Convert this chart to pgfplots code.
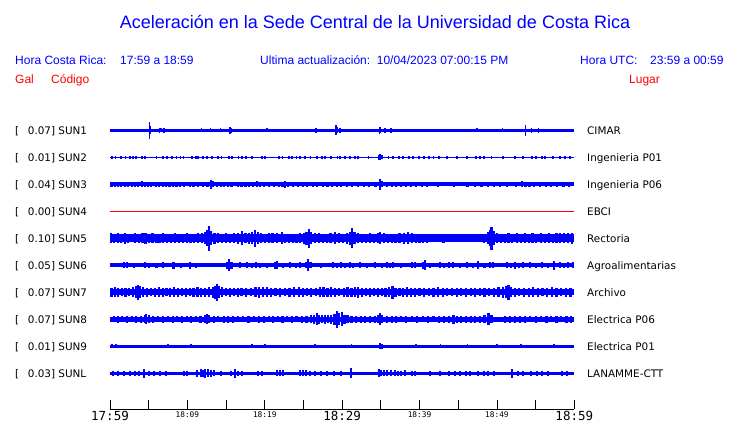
\documentclass[border=0pt]{standalone}
\usepackage{fontspec}
\setmainfont{Liberation Sans}
\newfontfamily\dvs{DejaVu Sans}
\newfontfamily\dvsm{DejaVu Sans Mono}
\usepackage{pgfplots}
\pgfplotsset{compat=1.18}
\definecolor{trace}{RGB}{0,0,255}
\definecolor{redt}{RGB}{255,0,0}
\newcommand\tlB[1]{\fontsize{12.5pt}{12.5pt}\dvsm #1}
\newcommand\tlS[1]{\raisebox{3pt}{\fontsize{7.8pt}{7.8pt}\dvsm #1}}
\pgfplotsset{
  bars/.style={draw=none, mark=none,
    error bars/.cd, y dir=both, y explicit, error mark=none,
    error bar style={draw=trace, line width=#1}},
  base/.style={trace, line width=#1, mark=none},
  table/et/.style={header=false, x index=0, y index=1, y error index=2},
}
\newcommand\lab[3]{%
  \node[anchor=base west, inner sep=0pt, font=\fontsize{10.4pt}{10.4pt}\dvs] at (15pt,#1pt-3.8pt) {[};
  \node[anchor=base west, inner sep=0pt, font=\fontsize{10.4pt}{10.4pt}\dvs] at (27.7pt,#1pt-3.8pt) {#2};
  \node[anchor=base west, inner sep=0pt, font=\fontsize{10.4pt}{10.4pt}\dvs] at (587pt,#1pt-3.8pt) {#3};
}
\begin{document}
\begin{tikzpicture}
\path[use as bounding box, fill=white] (0pt,0pt) rectangle (740pt,423pt);
\node[anchor=base, inner sep=0pt, text=trace, font=\fontsize{18pt}{18pt}\selectfont] at (375pt,394.7pt) {Aceleración en la Sede Central de la Universidad de Costa Rica};
\begin{scope}[every node/.style={anchor=base west, inner sep=0pt, font=\fontsize{12pt}{12pt}\selectfont}]
\node[text=trace] at (15pt,358.7pt) {Hora Costa Rica:};
\node[text=trace] at (120pt,358.7pt) {17:59 a 18:59};
\node[text=trace] at (260pt,358.7pt) {Ultima actualización:\ \ 10/04/2023 07:00:15 PM};
\node[text=trace] at (580pt,358.7pt) {Hora UTC:};
\node[text=trace] at (650pt,358.7pt) {23:59 a 00:59};
\node[text=redt] at (15pt,339.7pt) {Gal};
\node[text=redt] at (51pt,339.7pt) {Código};
\node[text=redt] at (629pt,339.7pt) {Lugar};
\end{scope}
\lab{292.7}{0.07] SUN1}{CIMAR}
\lab{265.7}{0.01] SUN2}{Ingenieria P01}
\lab{238.7}{0.04] SUN3}{Ingenieria P06}
\lab{211.7}{0.00] SUN4}{EBCI}
\lab{184.7}{0.10] SUN5}{Rectoria}
\lab{157.7}{0.05] SUN6}{Agroalimentarias}
\lab{130.7}{0.07] SUN7}{Archivo}
\lab{103.7}{0.07] SUN8}{Electrica P06}
\lab{76.7}{0.01] SUN9}{Electrica P01}
\lab{49.7}{0.03] SUNL}{LANAMME-CTT}
\begin{axis}[
  at={(110pt,14pt)}, anchor=south west, scale only axis,
  width=464.3pt, height=296pt,
  xmin=0, xmax=60, ymin=14, ymax=310,
  axis x line*=bottom, axis y line=none,
  axis line style={black, line width=0.8pt},
  xtick={0,5,...,60},
  xticklabels={\tlB{17:59},,\tlS{18:09},,\tlS{18:19},,\tlB{18:29},,\tlS{18:39},,\tlS{18:49},,\tlB{18:59}},
  xticklabel style={anchor=base, yshift=-11.6pt, inner sep=0pt},
  major tick length=9pt, xtick align=inside,
  tick style={black, line width=0.8pt},
  clip=false,
]
% SUN1
\addplot[base=3.3pt] coordinates {(0,292.7) (60,292.7)};
\addplot[bars=1.5pt] table[et] {
5.09 292.7 8.7
5.2 292.7 4
6.4 292.7 2.5
6.6 292.7 2.2
7.0 292.7 2.5
11.85 292.7 2.2
13.0 292.7 2.2
14.3 292.7 2.2
15.5 292.7 3.5
15.65 292.7 2.5
20.3 292.7 2.2
26.6 292.7 2.7
29.2 292.7 5.2
29.35 292.7 3
29.7 292.7 2.5
34.8 292.7 3.7
34.95 292.7 3.2
35.55 292.7 2.5
36.3 292.7 2.5
47.4 292.7 2
50.7 292.7 2
53.7 292.7 5.5
54.5 292.7 2.5
55.4 292.7 2.5
};
% SUN2
\addplot[base=1.5pt] coordinates {(0,265.7) (60,265.7)};
\addplot[bars=1.8pt] table[et] {
0.3 265.7 1.5
0.7 265.7 1.5
1.4 265.7 1.5
2.0 265.7 1.5
2.6 265.7 1.5
3.0 265.7 1.5
3.4 265.7 1.5
4.1 265.7 1.5
4.5 265.7 1.5
6.0 265.7 1.5
6.8 265.7 1.5
7.4 265.7 1.5
8.0 265.7 1.5
8.6 265.7 1.5
9.1 265.7 1.5
9.5 265.7 1.5
10.6 265.7 1.5
11.1 265.7 1.5
11.4 265.7 1.5
12.0 265.7 1.5
12.5 265.7 1.5
13.2 265.7 1.5
14.0 265.7 1.5
14.4 265.7 1.5
15.4 265.7 1.5
15.8 265.7 1.5
16.6 265.7 1.5
17.1 265.7 1.5
17.6 265.7 1.5
18.3 265.7 1.5
19.6 265.7 1.5
20.0 265.7 1.5
21.8 265.7 1.5
22.3 265.7 1.5
23.1 265.7 1.5
23.5 265.7 1.5
24.1 265.7 1.5
24.6 265.7 1.5
25.2 265.7 1.5
25.9 265.7 1.5
26.7 265.7 1.5
27.4 265.7 1.5
27.8 265.7 1.5
28.6 265.7 1.5
29.4 265.7 1.5
29.7 265.7 1.5
30.4 265.7 1.5
31.0 265.7 1.5
31.7 265.7 1.5
32.1 265.7 1.5
33.4 265.7 1.5
34.7 265.7 2.6
34.9 265.7 2.8
35.1 265.7 2
36.0 265.7 1.5
36.6 265.7 1.5
37.3 265.7 1.5
37.9 265.7 1.5
38.6 265.7 1.5
39.2 265.7 1.5
39.9 265.7 1.5
40.6 265.7 1.5
41.2 265.7 1.5
41.8 265.7 1.5
42.5 265.7 1.5
43.5 265.7 1.5
44.8 265.7 1.5
46.1 265.7 1.5
47.3 265.7 1.5
47.8 265.7 1.5
48.3 265.7 1.5
49.3 265.7 1.5
50.8 265.7 1.5
52.3 265.7 1.5
53.4 265.7 1.5
54.5 265.7 1.5
55.1 265.7 1.5
55.8 265.7 1.5
56.2 265.7 1.5
57.2 265.7 1.5
58.2 265.7 1.5
58.8 265.7 1.5
59.4 265.7 1.5
};
% SUN3
\addplot[base=3.6pt] coordinates {(0,238.7) (60,238.7)};
\addplot[bars=2.2pt] table[et] {
0.2 238.7 2.3
0.6 238.7 2.3
1.0 238.7 2.5
1.4 238.7 2.3
1.9 238.7 2.3
2.3 238.7 2.5
2.8 238.7 2.3
3.2 238.7 2.6
3.6 238.7 2.3
4.1 238.7 2.8
4.5 238.7 2.5
4.9 238.7 2.5
5.3 238.7 2.3
5.9 238.7 2.3
6.3 238.7 2.5
6.8 238.7 2.3
7.2 238.7 2.3
7.7 238.7 2.6
8.1 238.7 2.3
8.6 238.7 2.3
9.0 238.7 2.5
9.6 238.7 2.3
10.3 238.7 2.3
10.8 238.7 2.5
11.4 238.7 2.3
12.0 238.7 2.3
12.6 238.7 2.5
13.05 238.7 4.3
13.3 238.7 3
13.8 238.7 2.3
14.3 238.7 2.5
14.7 238.7 2.6
15.2 238.7 2.5
15.7 238.7 2.3
16.5 238.7 2.3
17.0 238.7 2.5
17.5 238.7 2.3
18.0 238.7 2.3
18.5 238.7 2.5
18.96 238.7 3.2
19.4 238.7 2.3
19.9 238.7 2.3
20.5 238.7 2.3
21.2 238.7 2.3
21.8 238.7 2.5
22.3 238.7 2.6
22.6 238.7 3.5
23.0 238.7 2.5
23.6 238.7 2.3
24.3 238.7 2.3
24.9 238.7 2.3
25.5 238.7 2.5
26.2 238.7 2.3
26.8 238.7 2.3
27.5 238.7 2.5
28.1 238.7 2.3
28.7 238.7 2.5
29.3 238.7 2.3
29.9 238.7 2.5
30.6 238.7 2.3
31.3 238.7 2.3
32.0 238.7 2.3
32.8 238.7 2.3
33.5 238.7 2.3
34.3 238.7 2.3
34.9 238.7 5.3
35.2 238.7 3.2
35.8 238.7 2.5
36.4 238.7 2.6
37.0 238.7 2.5
37.6 238.7 2.3
38.2 238.7 2.5
38.9 238.7 2.3
39.5 238.7 2.3
40.3 238.7 2.3
41.0 238.7 2.3
42.4 238.7 2.3
44.5 238.7 2.3
46.2 238.7 2.3
47.2 238.7 2.3
48.0 238.7 2.3
48.8 238.7 2.3
49.6 238.7 2.3
50.4 238.7 2.3
51.3 238.7 2.3
52.5 238.7 2.5
53.2 238.7 3.2
53.7 238.7 2.5
54.2 238.7 2.3
54.8 238.7 2.5
55.6 238.7 2.3
56.3 238.7 2.3
57.0 238.7 2.5
57.8 238.7 2.5
58.6 238.7 2.3
59.3 238.7 2.3
};
% SUN4
\addplot[redt, line width=1pt, mark=none] coordinates {(0,211.7) (60,211.7)};
% SUN5
\addplot[base=7.6pt] coordinates {(0,184.7) (60,184.7)};
\addplot[bars=2.2pt] table[et] {
0.1 184.7 5
0.5 184.7 4.5
1.0 184.7 5
1.4 184.7 4.3
1.9 184.7 5.5
2.3 184.7 4.5
2.8 184.7 4
3.2 184.7 4.8
3.7 184.7 4.3
4.2 184.7 5
4.6 184.7 5.5
5.0 184.7 4.5
5.5 184.7 4.8
6.0 184.7 4.3
6.4 184.7 4.5
6.9 184.7 5
7.4 184.7 4.3
7.9 184.7 4.5
8.4 184.7 4.8
8.9 184.7 4.3
9.4 184.7 4.5
9.9 184.7 5
10.4 184.7 4.3
10.9 184.7 4.5
11.4 184.7 4.8
11.9 184.7 5
12.3 184.7 6
12.6 184.7 8
12.84 184.7 12.5
13.1 184.7 7
13.5 184.7 5.5
14.0 184.7 4.8
14.5 184.7 4.5
15.0 184.7 5
15.5 184.7 4.5
16.0 184.7 5
16.5 184.7 5.5
17.1 184.7 7
17.5 184.7 5
18.0 184.7 5.5
18.4 184.7 6
18.74 184.7 8.7
19.1 184.7 6
19.5 184.7 5
20.0 184.7 4.5
20.5 184.7 4.8
21.0 184.7 5
21.6 184.7 5
22.2 184.7 6
22.6 184.7 4.5
23.1 184.7 4.5
23.6 184.7 4.3
24.1 184.7 4.5
24.6 184.7 5
25.1 184.7 5.5
25.4 184.7 6.5
25.7 184.7 9.5
26.0 184.7 6
26.5 184.7 5
27.0 184.7 4.8
27.5 184.7 4.5
28.0 184.7 4.5
28.5 184.7 5
29.1 184.7 6
29.6 184.7 4.8
30.1 184.7 4.5
30.6 184.7 5.5
31.0 184.7 6.5
31.3 184.7 10.2
31.6 184.7 6
32.1 184.7 5
32.6 184.7 4.5
33.1 184.7 4.5
33.6 184.7 5
34.1 184.7 4.5
34.6 184.7 5
34.9 184.7 6
35.4 184.7 5
35.9 184.7 4.5
36.4 184.7 4.3
36.9 184.7 4.5
37.4 184.7 5
38.0 184.7 5.5
38.5 184.7 6
39.0 184.7 5
39.5 184.7 4.5
40.0 184.7 4.3
40.5 184.7 4.5
41.0 184.7 4.3
41.6 184.7 4
42.1 184.7 3.8
42.6 184.7 4
43.1 184.7 4.3
43.6 184.7 4
44.1 184.7 3.8
44.6 184.7 4
45.1 184.7 4
45.7 184.7 3.8
46.2 184.7 4
46.7 184.7 3.8
47.2 184.7 4
47.8 184.7 3.8
48.3 184.7 4.3
48.8 184.7 6
49.1 184.7 8
49.3 184.7 11.3
49.6 184.7 7
50.0 184.7 5
50.5 184.7 4.5
51.0 184.7 4.5
51.5 184.7 4.8
52.0 184.7 4.5
52.6 184.7 4.8
53.1 184.7 4.5
53.6 184.7 4.8
54.1 184.7 4.5
54.6 184.7 4.8
55.1 184.7 4.5
55.7 184.7 4.8
56.2 184.7 4.5
56.7 184.7 5
57.2 184.7 4.5
57.7 184.7 4.8
58.2 184.7 5
58.7 184.7 4.8
59.2 184.7 5
59.7 184.7 5.5
};
% SUN6
\addplot[base=3.6pt] coordinates {(0,157.7) (60,157.7)};
\addplot[bars=2.2pt] table[et] {
1.8 157.7 3
2.2 157.7 3
3.1 157.7 2.6
4.5 157.7 3
5.0 157.7 2.7
6.0 157.7 2.6
6.9 157.7 3
8.2 157.7 3.5
9.2 157.7 2.6
10.3 157.7 3.5
11.1 157.7 2.6
15.1 157.7 3.5
15.4 157.7 6.2
15.7 157.7 3.5
16.8 157.7 3
17.7 157.7 3
18.3 157.7 2.7
18.9 157.7 3
19.4 157.7 2.7
20.3 157.7 2.6
21.3 157.7 3.3
21.6 157.7 4
22.4 157.7 2.6
23.3 157.7 3
24.0 157.7 2.6
24.6 157.7 3
25.3 157.7 3
25.6 157.7 6
25.9 157.7 3
27.3 157.7 2.6
28.8 157.7 3
29.3 157.7 2.7
29.9 157.7 3
30.4 157.7 2.7
31.0 157.7 3
31.4 157.7 2.7
32.3 157.7 3
33.2 157.7 2.6
34.2 157.7 3
35.1 157.7 2.6
35.8 157.7 3
36.2 157.7 2.7
36.6 157.7 3
37.6 157.7 2.6
39.0 157.7 3
39.4 157.7 3
40.4 157.7 3.5
40.7 157.7 4.8
41.4 157.7 2.6
42.6 157.7 3
43.2 157.7 2.7
43.8 157.7 3
44.3 157.7 3
45.2 157.7 2.6
46.1 157.7 3
46.9 157.7 2.6
47.6 157.7 4
48.4 157.7 2.6
49.1 157.7 3
49.5 157.7 3
51.3 157.7 3
51.8 157.7 2.7
52.3 157.7 3.3
52.9 157.7 2.7
53.4 157.7 3
54.3 157.7 3
55.0 157.7 2.6
55.8 157.7 3
56.6 157.7 2.6
57.4 157.7 4.5
58.2 157.7 3
58.7 157.7 2.7
59.2 157.7 3
59.8 157.7 3
};
% SUN7
\addplot[base=5.6pt] coordinates {(0,130.7) (60,130.7)};
\addplot[bars=2.2pt] table[et] {
0.2 130.7 4.5
0.6 130.7 5
1.0 130.7 4.5
1.5 130.7 4
2.0 130.7 4.5
2.5 130.7 4
3.0 130.7 5
3.4 130.7 6
3.66 130.7 7.5
3.9 130.7 6
4.3 130.7 5
4.8 130.7 4.5
5.3 130.7 4
5.8 130.7 4.5
6.3 130.7 5
6.8 130.7 4.5
7.3 130.7 4
7.8 130.7 4.5
8.3 130.7 5
8.8 130.7 4.5
9.3 130.7 4
9.8 130.7 4.5
10.3 130.7 4
10.8 130.7 4.5
11.3 130.7 5
11.8 130.7 4.5
12.3 130.7 4.5
12.8 130.7 5
13.3 130.7 5.5
13.6 130.7 6.5
13.87 130.7 8.5
14.1 130.7 6
14.5 130.7 5
15.0 130.7 4
15.5 130.7 4.5
16.0 130.7 4
16.5 130.7 4.5
17.0 130.7 4
17.6 130.7 4.5
18.2 130.7 4
18.8 130.7 5
19.3 130.7 5.5
19.8 130.7 5
20.3 130.7 5
20.8 130.7 4.5
21.4 130.7 4
22.0 130.7 4.5
22.6 130.7 4
23.2 130.7 4.5
23.8 130.7 5
24.4 130.7 5
24.9 130.7 4.5
25.5 130.7 4
26.0 130.7 4.5
26.6 130.7 4
27.1 130.7 5
27.6 130.7 5
28.1 130.7 4.5
28.6 130.7 5
29.1 130.7 4.5
29.6 130.7 4
30.2 130.7 4.5
30.7 130.7 5
31.2 130.7 4.5
31.7 130.7 5
32.1 130.7 5.5
32.6 130.7 4.5
33.1 130.7 4
33.6 130.7 4.5
34.1 130.7 4
34.6 130.7 4.5
35.1 130.7 4
35.6 130.7 4.5
36.1 130.7 5
36.5 130.7 6.5
36.9 130.7 4.5
37.4 130.7 4
37.9 130.7 4.5
38.4 130.7 5
38.9 130.7 4.5
39.4 130.7 4.5
40.0 130.7 4
40.6 130.7 4.5
41.2 130.7 4
41.8 130.7 4.5
42.4 130.7 5
43.0 130.7 4.5
43.6 130.7 4
44.2 130.7 4
44.8 130.7 4.5
45.4 130.7 4
46.0 130.7 4.5
46.6 130.7 4
47.2 130.7 4.5
47.8 130.7 4
48.4 130.7 4.5
49.0 130.7 4
49.6 130.7 4.5
50.2 130.7 5
50.8 130.7 5.5
51.2 130.7 6
51.5 130.7 7.3
51.8 130.7 5
52.3 130.7 4.5
52.9 130.7 4
53.5 130.7 4.5
54.1 130.7 4.5
54.7 130.7 5
55.3 130.7 4.5
55.9 130.7 4
56.5 130.7 4.5
57.1 130.7 5
57.7 130.7 4.5
58.3 130.7 4
58.9 130.7 4.5
59.5 130.7 4.5
};
% SUN8
\addplot[base=5.2pt] coordinates {(0,103.7) (60,103.7)};
\addplot[bars=2.2pt] table[et] {
0.5 103.7 3
1.0 103.7 3.3
1.6 103.7 3
2.2 103.7 3.3
2.8 103.7 3
3.4 103.7 3.3
4.0 103.7 3.3
4.5 103.7 4
4.7 103.7 5
5.0 103.7 4
5.6 103.7 3.3
6.2 103.7 3
6.9 103.7 3.3
7.5 103.7 3
8.1 103.7 3.3
8.7 103.7 3
9.3 103.7 3.3
9.9 103.7 3
10.5 103.7 3.3
11.1 103.7 3
11.7 103.7 3.5
12.3 103.7 4
12.5 103.7 5
12.8 103.7 4
13.4 103.7 3.3
14.0 103.7 3
14.7 103.7 3.3
15.3 103.7 3.5
15.9 103.7 3.3
16.5 103.7 3
17.2 103.7 3
17.9 103.7 3.3
18.6 103.7 3
19.3 103.7 3.3
19.9 103.7 3.5
20.5 103.7 3
21.1 103.7 3.3
21.7 103.7 3
22.3 103.7 3.3
22.9 103.7 3
23.5 103.7 3.3
24.1 103.7 3
24.8 103.7 3.3
25.4 103.7 3.3
26.0 103.7 4
26.4 103.7 4.5
26.7 103.7 6
27.0 103.7 4.5
27.4 103.7 4
27.8 103.7 4.5
28.2 103.7 4
28.6 103.7 4.5
29.0 103.7 5.5
29.3 103.7 8.3
29.6 103.7 6
30.0 103.7 7
30.3 103.7 4.5
30.7 103.7 4
31.2 103.7 3.5
31.8 103.7 3.3
32.4 103.7 3.5
33.0 103.7 3.3
33.6 103.7 3.3
34.2 103.7 3.5
34.6 103.7 4
34.9 103.7 6
35.2 103.7 4
35.8 103.7 3.3
36.4 103.7 3.5
37.0 103.7 3.3
37.6 103.7 3
38.3 103.7 3.3
39.0 103.7 3
39.7 103.7 3.3
40.4 103.7 3
41.1 103.7 3.3
41.8 103.7 3
42.5 103.7 3.3
43.2 103.7 3.5
43.8 103.7 3.3
44.4 103.7 4.5
44.8 103.7 3.5
45.4 103.7 3.3
46.0 103.7 3.5
46.6 103.7 3.3
47.2 103.7 3.3
47.8 103.7 3.5
48.4 103.7 4
48.9 103.7 6
49.3 103.7 4
51.0 103.7 3.3
51.7 103.7 3.5
52.3 103.7 3.3
53.0 103.7 3.5
53.6 103.7 3.3
54.3 103.7 3
55.0 103.7 3.3
55.7 103.7 3
56.4 103.7 3.3
57.0 103.7 3
57.7 103.7 3.3
58.3 103.7 3
59.0 103.7 3.3
59.6 103.7 3.3
};
% SUN9
\addplot[base=3.2pt] coordinates {(0,76.7) (60,76.7)};
\addplot[bars=1.8pt] table[et] {
0.3 76.7 2.2
0.8 76.7 2.2
7.5 76.7 2
10.5 76.7 2
18.3 76.7 2
20.0 76.7 2
26.5 76.7 2
31.2 76.7 2
34.9 76.7 2.8
35.1 76.7 2.5
39.5 76.7 2
42.7 76.7 2
46.2 76.7 2
50.0 76.7 2
53.1 76.7 2
57.4 76.7 2
};
% SUNL
\addplot[base=3.4pt] coordinates {(0,49.7) (60,49.7)};
\addplot[bars=2.0pt] table[et] {
0.4 49.7 2.5
1.0 49.7 2.5
1.8 49.7 2.5
2.6 49.7 2.5
3.2 49.7 2.5
3.8 49.7 2.5
4.4 49.7 4.5
5.0 49.7 2.5
5.7 49.7 2.5
6.4 49.7 2.5
7.2 49.7 2.5
9.5 49.7 2.5
10.0 49.7 2.5
11.3 49.7 3.5
11.7 49.7 4
12.0 49.7 3.5
12.3 49.7 4.5
12.6 49.7 4
13.0 49.7 3.5
13.4 49.7 3
14.4 49.7 2.5
15.6 49.7 2.5
16.2 49.7 4.5
16.6 49.7 2.5
17.0 49.7 2.5
19.1 49.7 2.5
19.6 49.7 2.5
21.6 49.7 3
22.0 49.7 3
22.4 49.7 3
24.5 49.7 2.8
24.9 49.7 3
25.3 49.7 2.8
25.9 49.7 2.5
26.5 49.7 2.5
27.3 49.7 2.5
28.1 49.7 2.5
29.0 49.7 2.5
29.9 49.7 2.5
31.2 49.7 5
34.7 49.7 4
35.0 49.7 3
35.4 49.7 2.8
35.8 49.7 3
36.3 49.7 2.8
36.8 49.7 3
37.2 49.7 2.5
37.6 49.7 2.5
38.1 49.7 3
39.0 49.7 2.5
39.4 49.7 2.5
41.4 49.7 2.5
42.6 49.7 2.5
43.8 49.7 2.5
44.6 49.7 2.5
45.2 49.7 2.5
46.0 49.7 2.5
46.5 49.7 2.5
47.6 49.7 2.5
48.3 49.7 2.5
48.9 49.7 2.5
49.6 49.7 2.5
52.0 49.7 4.5
52.7 49.7 2.5
53.4 49.7 2.5
54.4 49.7 2.5
55.2 49.7 2.5
55.8 49.7 2.5
56.6 49.7 2.5
58.4 49.7 2.5
59.0 49.7 2.5
};
\end{axis}
\end{tikzpicture}
\end{document}
